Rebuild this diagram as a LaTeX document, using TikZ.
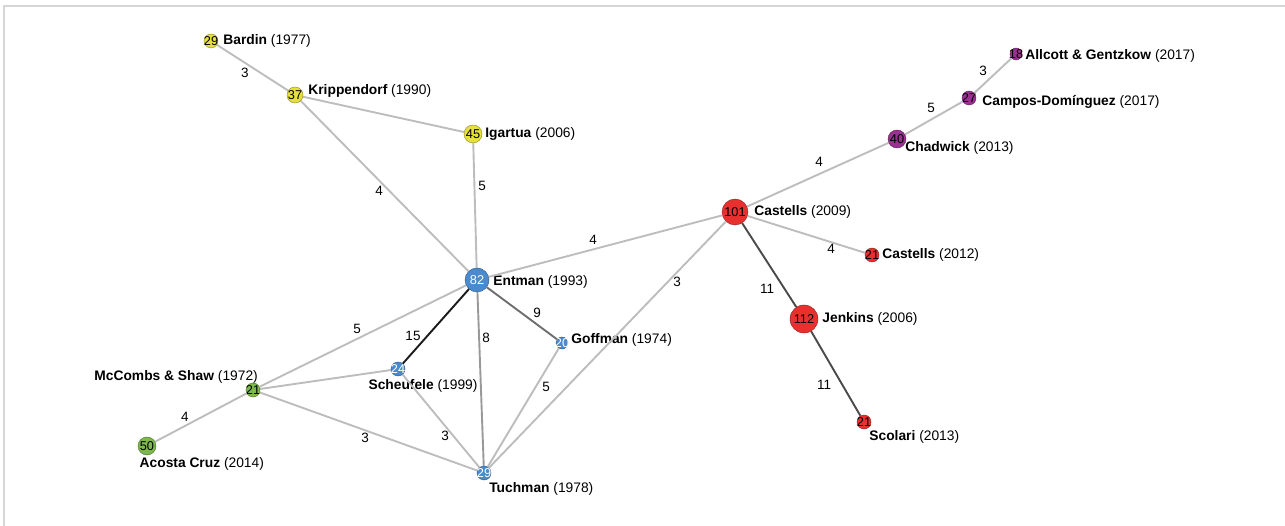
\documentclass[tikz,border=0pt]{standalone}
\usepackage{fontspec}
\setmainfont{Liberation Sans}
\usetikzlibrary{positioning}
\definecolor{cyellow}{HTML}{E6E03E}
\definecolor{cblue}{HTML}{4A8BD0}
\definecolor{cred}{HTML}{E8302E}
\definecolor{cpurple}{HTML}{993092}
\definecolor{cgreen}{HTML}{7CB84A}
\definecolor{elight}{HTML}{BDBDBD}
\definecolor{emid}{HTML}{999999}
\definecolor{edark}{HTML}{6E6E6E}
\definecolor{edarker}{HTML}{4A4A4A}
\definecolor{eblack}{HTML}{1A1A1A}
\definecolor{frame}{HTML}{D6D6D6}
\tikzset{
	paper/.style={circle, fill=#1, draw=#1!60!black, line width=0.4pt, inner sep=0pt},
	num/.style={font=\fontsize{12.8}{13}\selectfont, text=black, inner sep=0pt},
	wnum/.style={num, text=white},
	title/.style={font=\fontsize{13.8}{16}\selectfont, inner sep=0pt},
	weight/.style={font=\fontsize{13.5}{15}\selectfont, inner sep=0pt},
	cite/.style={line width=1.9pt, draw=#1},
	cite/.default=elight
}
\begin{document}
\begin{tikzpicture}[x=1pt,y=-1pt]
		\useasboundingbox (0,0) rectangle (1285,526);
		%frame
		\draw[frame, line width=1.5pt] (4,526) -- (4,6) -- (1285,6);

		%papers
		\node[paper=cyellow, minimum size=14pt, label={[num]center:29}] (bardin) at (211,41) {};
		\node[paper=cyellow, minimum size=16pt, label={[num]center:37}] (krip) at (295,95) {};
		\node[paper=cyellow, minimum size=18pt, label={[num]center:45}] (igartua) at (473,134) {};
		\node[paper=cblue, minimum size=24pt, label={[wnum]center:82}] (entman) at (477,280) {};
		\node[paper=cblue, minimum size=12pt, label={[wnum]center:20}] (goffman) at (562,343) {};
		\node[paper=cblue, minimum size=14pt, label={[wnum]center:24}] (scheufele) at (398,369) {};
		\node[paper=cblue, minimum size=14pt, label={[wnum]center:29}] (tuchman) at (484,473) {};
		\node[paper=cgreen, minimum size=14pt, label={[num]center:21}] (mccombs) at (253,390) {};
		\node[paper=cgreen, minimum size=18pt, label={[num]center:50}] (acosta) at (147,446) {};
		\node[paper=cred, minimum size=26pt, label={[num]center:101}] (castells) at (735,212) {};
		\node[paper=cred, minimum size=14pt, label={[num]center:21}] (castellsb) at (872,255) {};
		\node[paper=cred, minimum size=28pt, label={[num]center:112}] (jenkins) at (804,319) {};
		\node[paper=cred, minimum size=14pt, label={[num]center:21}] (scolari) at (864,422) {};
		\node[paper=cpurple, minimum size=18pt, label={[num]center:40}] (chadwick) at (897,139) {};
		\node[paper=cpurple, minimum size=14pt, label={[num]center:27}] (campos) at (969,98) {};
		\node[paper=cpurple, minimum size=12pt, label={[num]center:18}] (allcott) at (1016,54) {};

		%names
		\node[title, right=5pt of bardin] (bardinname) {\textbf{Bardin} (1977)};
		\node[title, right=5pt of krip, yshift=4pt] (kripname) {\textbf{Krippendorf} (1990)};
		\node[title, right=3pt of igartua] (igartuaname) {\textbf{Igartua} (2006)};
		\node[title, right=4pt of entman, yshift=-2pt] (entmanname) {\textbf{Entman} (1993)};
		\node[title, right=3pt of goffman, yshift=3pt] (goffmanname) {\textbf{Goffman} (1974)};
		\node[title, below=3pt of scheufele, xshift=25pt] (scheufelename) {\textbf{Scheufele} (1999)};
		\node[title, anchor=north west] (tuchmanname) at ([yshift=-4pt]tuchman.south east) {\textbf{Tuchman} (1978)};
		\node[title, anchor=south east] (mccombsname) at ([xshift=5pt,yshift=-1pt]mccombs.north) {\textbf{McCombs \& Shaw} (1972)};
		\node[title, anchor=north west] (acostaname) at ([xshift=-1pt,yshift=-5pt]acosta.south west) {\textbf{Acosta Cruz} (2014)};
		\node[title, right=6pt of castells] (castellsname) {\textbf{Castells} (2009)};
		\node[title, right=3pt of castellsb] (castellsbname) {\textbf{Castells} (2012)};
		\node[title, right=4pt of jenkins] (jenkinsname) {\textbf{Jenkins} (2006)};
		\node[title, right=-2pt of scolari, yshift=-15pt] (scolariname) {\textbf{Scolari} (2013)};
		\node[title, right=-1pt of chadwick, yshift=-9pt] (chadwickname) {\textbf{Chadwick} (2013)};
		\node[title, right=6pt of campos, yshift=-4pt] (camposname) {\textbf{Campos-Domínguez} (2017)};
		\node[title, right=3pt of allcott, yshift=-2pt] (allcottname) {\textbf{Allcott \& Gentzkow} (2017)};

		%citations
		\draw[cite] (bardin) -- (krip);
		\draw[cite] (krip) -- (igartua);
		\draw[cite] (krip) -- (entman);
		\draw[cite] (igartua) -- (entman);
		\draw[cite] (entman) -- (castells);
		\draw[cite=eblack] (entman) -- (scheufele);
		\draw[cite=edark] (entman) -- (goffman);
		\draw[cite=emid] (entman) -- (tuchman);
		\draw[cite] (entman) -- (mccombs);
		\draw[cite] (mccombs) -- (scheufele);
		\draw[cite] (mccombs) -- (tuchman);
		\draw[cite] (mccombs) -- (acosta);
		\draw[cite] (scheufele) -- (tuchman);
		\draw[cite] (goffman) -- (tuchman);
		\draw[cite] (castells) -- (tuchman);
		\draw[cite] (castells) -- (chadwick);
		\draw[cite] (chadwick) -- (campos);
		\draw[cite] (campos) -- (allcott);
		\draw[cite] (castells) -- (castellsb);
		\draw[cite=edarker] (castells) -- (jenkins);
		\draw[cite=edarker] (jenkins) -- (scolari);

		%weights
		\node[weight] (wbk) at (245,73) {3};
		\node[weight] (wke) at (379,191) {4};
		\node[weight] (wie) at (482,186) {5};
		\node[weight] (wec) at (593,240) {4};
		\node[weight] (wct) at (677,282) {3};
		\node[weight] (wcch) at (819,162) {4};
		\node[weight] (wchc) at (931,108) {5};
		\node[weight] (wca) at (983,71) {3};
		\node[weight] (wccb) at (831,249) {4};
		\node[weight] (wcj) at (767,289) {11};
		\node[weight] (wjs) at (824,385) {11};
		\node[weight] (weg) at (537,313) {9};
		\node[weight] (wes) at (413,336) {15};
		\node[weight] (wet) at (486,338) {8};
		\node[weight] (wem) at (357,329) {5};
		\node[weight] (wmt) at (365,438) {3};
		\node[weight] (wst) at (445,436) {3};
		\node[weight] (wgt) at (546,387) {5};
		\node[weight] (wma) at (185,417) {4};
	\end{tikzpicture}
\end{document}
